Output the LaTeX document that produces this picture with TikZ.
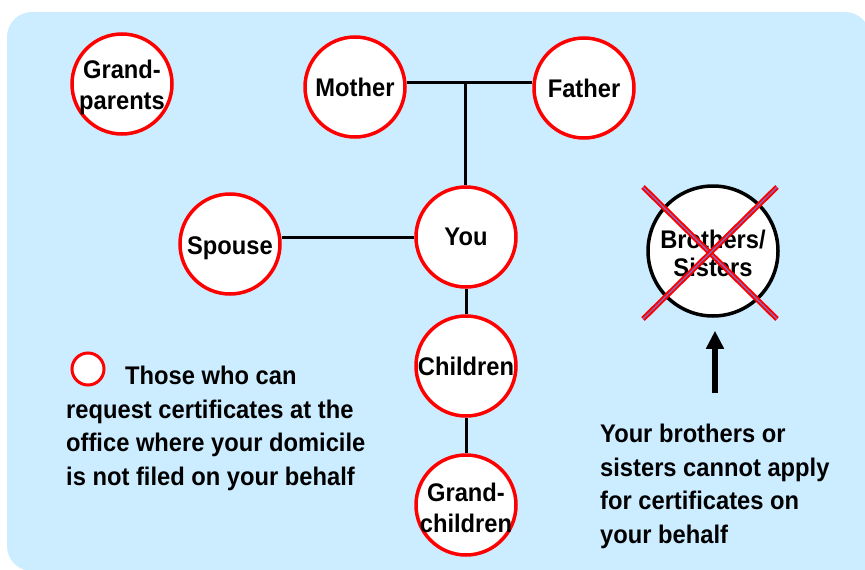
\documentclass[tikz,border=0pt]{standalone}
\usepackage{fontspec}
\setmainfont[FakeStretch=0.93]{Liberation Sans}
\usepackage{tikz}
\usetikzlibrary{arrows.meta}

\definecolor{paleblue}{RGB}{204,236,255}
\definecolor{crossblue}{RGB}{125,110,200}

\begin{document}
\begin{tikzpicture}[x=1pt,y=-1pt,
    kin/.style={circle,draw=red,line width=3.5pt,fill=white,minimum size=100pt,inner sep=0pt},
    kintext/.style={font=\bfseries\fontsize{25.5pt}{31pt}\selectfont,align=center,inner sep=0pt},
    note/.style={font=\bfseries\fontsize{25.5pt}{33.5pt}\selectfont,align=left,inner sep=0pt},
    tie/.style={line width=3pt},
    xout/.style={draw=red,double=crossblue,double distance=1.2pt,line width=2pt}]

	\useasboundingbox (0,0) rectangle (865,570);
	\fill[paleblue,rounded corners=25pt] (7,12) rectangle (870,571);
	\fill[paleblue] (800,500) rectangle (870,571);

	\node[kin,label={[kintext,yshift=-3pt]center:Grand-\\parents}] (grandparents) at (122,84) {};
	\node[kin,label={[kintext]center:Mother}] (mother) at (355,87) {};
	\node[kin,label={[kintext]center:Father}] (father) at (584,88) {};
	\node[kin,label={[kintext,yshift=-4pt]center:Spouse}] (spouse) at (230,244) {};
	\node[kin,label={[kintext]center:You}] (you) at (466,237) {};
	\node[kin,label={[kintext]center:Children}] (children) at (466,366) {};
	\node[kin,label={[kintext,yshift=-3pt]center:Grand-\\children}] (grandkids) at (466,505) {};
	\node[kin,draw=black,minimum size=130pt,
	      label={[kintext,yshift=-2pt,font=\bfseries\fontsize{25.5pt}{28pt}\selectfont]center:Brothers/\\Sisters}] (siblings) at (713,251) {};

	\coordinate (bar) at (465,82);
	\draw[tie] (bar -| mother.east) -- (bar -| father.west);
	\draw[tie] (bar) -- (bar |- you.north);
	\draw[tie] (you.west) -- (you.west -| spouse.east);
	\draw[tie] (you) -- (children);
	\draw[tie] (children) -- (grandkids);

	\draw[xout] (643,187) -- (777,319);
	\draw[xout] (777,187) -- (643,319);

	\coordinate (arrowfoot) at (715,393);
	\draw[line width=6pt,-{Triangle[length=18pt,width=17pt]},shorten >=13pt] (arrowfoot) -- (arrowfoot |- siblings.south);

	\node[kin,line width=3pt,minimum size=32pt] (key) at (88,369) {};
	\node[note,anchor=north west] (keytext) at (66,366) {\hspace*{59pt}Those who can\\request certificates at the\\office where your domicile\\is not filed on your behalf};
	\node[note,anchor=north west] (siblingtext) at (600,424) {Your brothers or\\sisters cannot apply\\for certificates on\\your behalf};

\end{tikzpicture}
\end{document}
